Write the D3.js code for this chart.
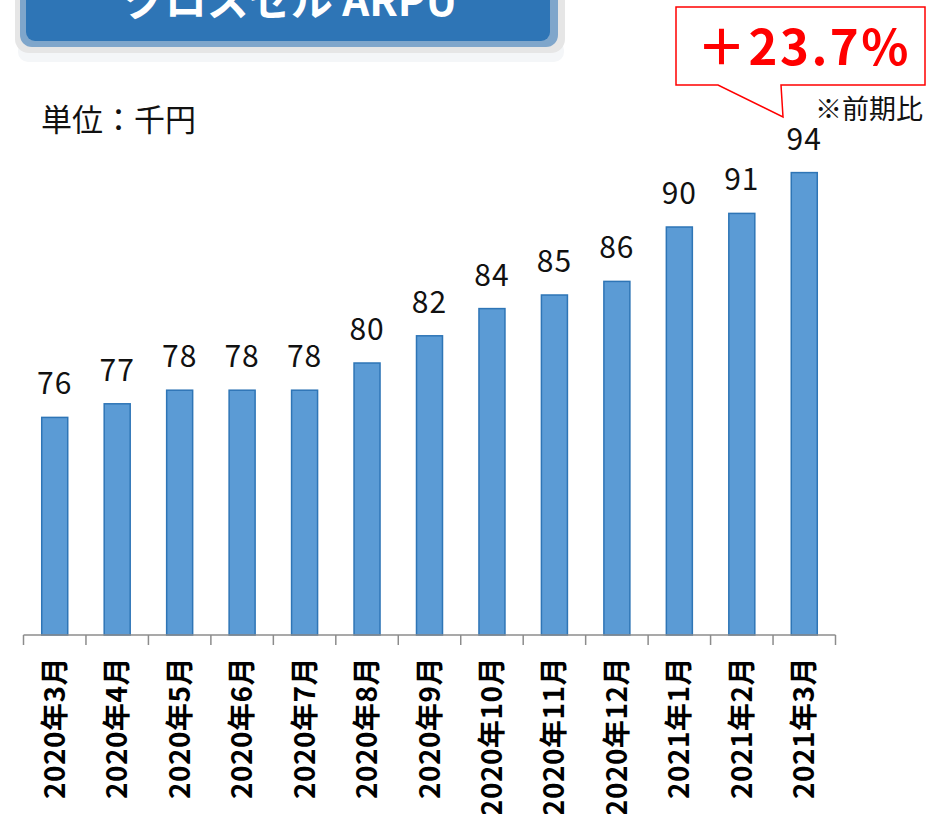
<!DOCTYPE html>
<html>
<head>
<meta charset="utf-8">
<script src="https://cdn.jsdelivr.net/npm/d3@7"></script>
<style>
  body { margin: 0; background: #fff; }
  svg { display: block; font-family: "Noto Sans CJK JP", "Noto Sans", sans-serif; }
</style>
</head>
<body>
<div id="container"></div>
<script>
const months = ["2020年3月","2020年4月","2020年5月","2020年6月","2020年7月","2020年8月","2020年9月",
  "2020年10月","2020年11月","2020年12月","2021年1月","2021年2月","2021年3月"];
const arpu = [76, 77, 78, 78, 78, 80, 82, 84, 85, 86, 90, 91, 94];
const yDomain = [60, 100];
const title = "クロスセル ARPU";
const unitLabel = "単位：千円";
const growthLabel = "＋23.7%";
const growthNote = "※前期比";

const width = 933;
const height = 814;
const baseY = 635;

const svg = d3.select("#container")
  .append("svg")
  .attr("width", width)
  .attr("height", height);

// title box (top cut off)
svg.append("rect")
  .attr("x", 18).attr("y", 40).attr("width", 546).attr("height", 22)
  .attr("rx", 10).attr("fill", "#f4f6f8");
svg.append("rect")
  .attr("x", 15).attr("y", -40).attr("width", 550).attr("height", 93)
  .attr("rx", 14).attr("fill", "#e6e6e6");
svg.append("rect")
  .attr("x", 20).attr("y", -40).attr("width", 538).attr("height", 87)
  .attr("rx", 12).attr("fill", "#7fa6cb");
svg.append("rect")
  .attr("x", 26).attr("y", -40).attr("width", 524).attr("height", 81)
  .attr("rx", 9).attr("fill", "#2e75b6");
svg.append("text")
  .attr("x", 290).attr("y", 16)
  .attr("text-anchor", "middle")
  .attr("fill", "#fff")
  .attr("font-weight", "bold")
  .attr("font-size", 42)
  .text(title);

svg.append("text")
  .attr("x", 41).attr("y", 131)
  .attr("font-size", 31)
  .attr("fill", "#111")
  .text(unitLabel);

const x = d3.scaleBand()
  .domain(months)
  .range([23.5, 835.5])
  .paddingInner(0)
  .paddingOuter(0);

const y = d3.scaleLinear()
  .domain(yDomain)
  .range([baseY, baseY - (yDomain[1] - yDomain[0]) * 13.6]);

const barW = 26;

svg.selectAll("rect.bar")
  .data(arpu)
  .enter()
  .append("rect")
  .attr("class", "bar")
  .attr("x", (d, i) => x(months[i]) + x.bandwidth() / 2 - barW / 2)
  .attr("y", d => y(d))
  .attr("width", barW)
  .attr("height", d => baseY - y(d))
  .attr("fill", "#5b9bd5")
  .attr("stroke", "#2e75b6")
  .attr("stroke-width", 1.5);

svg.selectAll("text.val")
  .data(arpu)
  .enter()
  .append("text")
  .attr("class", "val")
  .attr("x", (d, i) => x(months[i]) + x.bandwidth() / 2)
  .attr("y", d => y(d) - 23)
  .attr("text-anchor", "middle")
  .attr("font-size", 30)
  .attr("letter-spacing", 1)
  .attr("fill", "#111")
  .text(d => d);

// x axis with ticks between categories
const xAxis = svg.append("g")
  .attr("transform", `translate(0,${baseY})`);
xAxis.append("line")
  .attr("x1", x.range()[0]).attr("x2", x.range()[1])
  .attr("stroke", "#8c8c8c").attr("stroke-width", 1.5);
const edges = months.map(m => x(m)).concat([x.range()[1]]);
xAxis.selectAll("line.tick")
  .data(edges)
  .enter()
  .append("line")
  .attr("class", "tick")
  .attr("x1", d => d).attr("x2", d => d)
  .attr("y1", 0).attr("y2", 10)
  .attr("stroke", "#8c8c8c").attr("stroke-width", 1.5);
xAxis.selectAll("text")
  .data(months)
  .enter()
  .append("text")
  .attr("transform", d => `translate(${x(d) + x.bandwidth() / 2 + 10},22) rotate(-90)`)
  .attr("text-anchor", "end")
  .attr("font-weight", "bold")
  .attr("font-size", 28)
  .attr("letter-spacing", 0.5)
  .attr("fill", "#000")
  .text(d => d);

// callout
const callout = svg.append("g");
callout.append("path")
  .attr("d", "M676,7 H925 V85 H781 L783,117 L718,85 H676 Z")
  .attr("fill", "#fff")
  .attr("stroke", "#ff0000")
  .attr("stroke-width", 1.5);
callout.append("text")
  .attr("x", 804).attr("y", 65)
  .attr("text-anchor", "middle")
  .attr("font-weight", "bold")
  .attr("font-size", 49)
  .attr("letter-spacing", 2.5)
  .attr("fill", "#ff0000")
  .text(growthLabel);
svg.append("text")
  .attr("x", 923).attr("y", 119)
  .attr("text-anchor", "end")
  .attr("font-size", 27)
  .attr("fill", "#111")
  .text(growthNote);
</script>
</body>
</html>
